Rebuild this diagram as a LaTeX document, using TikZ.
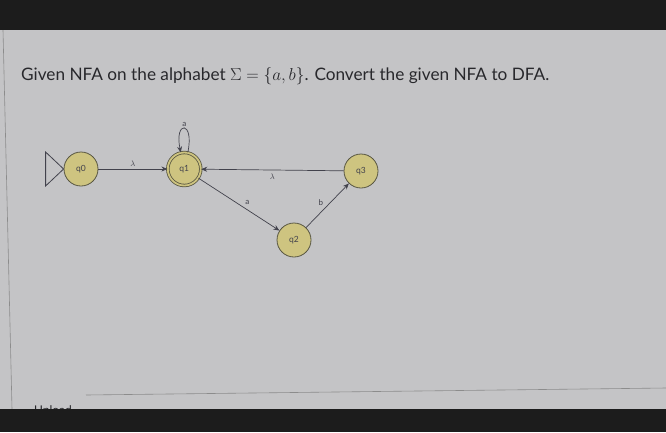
\documentclass[tikz,border=0pt]{standalone}
\usepackage[no-math]{fontspec}
\setmainfont{Lato}
\usetikzlibrary{arrows.meta,positioning}
\definecolor{screen}{RGB}{196,196,198}
\definecolor{bezel}{RGB}{28,28,28}
\definecolor{statefill}{RGB}{206,196,128}
\definecolor{stateline}{RGB}{88,86,66}
\definecolor{edgeline}{RGB}{66,66,76}
\definecolor{textcol}{RGB}{40,40,44}
\tikzset{
  state/.style={circle, draw=stateline, fill=statefill, line width=0.8pt,
    minimum size=34pt, inner sep=0pt, text=edgeline, font=\fontsize{8.5}{8.5}\selectfont},
  accept/.style={state, double=statefill, double distance=1.8pt, minimum size=33pt},
  trans/.style={-{Stealth[length=6pt,width=5pt]}, draw=edgeline, line width=0.7pt},
  lab/.style={font=\fontsize{8}{8}\selectfont, text=edgeline, inner sep=2pt},
  startmark/.style={draw=edgeline, line width=0.8pt},
  faint/.style={draw=black!45, line width=0.6pt}
}

\begin{document}
\begin{tikzpicture}[x=1pt, y=-1pt]
  \fill[screen] (0,0) rectangle (666,432);
  \useasboundingbox (0,0) rectangle (666,432);

  \node[anchor=base west, inner sep=0pt, text=textcol, font=\fontsize{17.2}{17.2}\selectfont] (question) at (21,80)
    {Given NFA on the alphabet $\Sigma=\{a,b\}$. Convert the given NFA to DFA.};

  \node[state] (q0) at (81,169) {q0};
  \node[accept, right=69pt of q0] (q1) {q1};
  \node[state] (q2) at (294,240) {q2};
  \node[state] (q3) at (361,171) {q3};

  \draw[startmark] (q0.west) -- ++(-18,-17) -- ++(0,34) -- cycle;

  \draw[trans] (q0) -- node[lab, above] {$\lambda$} (q1);
  \draw[trans] (q1) to[loop, out=78, in=102, looseness=12, min distance=24pt] node[lab, above, inner sep=1pt] {a} (q1);
  \draw[trans] (q1) -- node[lab, above right, pos=0.55] {a} (q2);
  \draw[trans] (q2) -- node[lab, above left, pos=0.45] {b} (q3);
  \draw[trans] (q3) -- node[lab, below, pos=0.5, inner sep=4pt] {$\lambda$} (q1);

  % screen edges
  \draw[faint] (3,30) -- (12,409);
  \draw[faint] (86,395) -- (666,388);
  \node[anchor=base west, inner sep=0pt, text=textcol, font=\fontsize{12}{12}\selectfont] (upload) at (34,414) {Upload};

  \fill[bezel] (0,0) rectangle (666,30);
  \fill[bezel] (0,409) rectangle (666,432);
\end{tikzpicture}
\end{document}
